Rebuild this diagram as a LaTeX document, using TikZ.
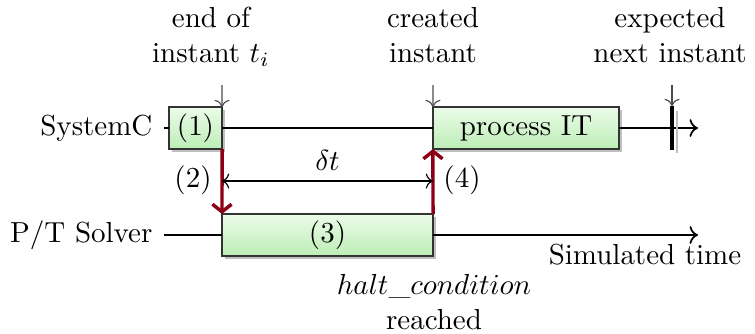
\documentclass[tikz,border=0pt]{standalone}
\usetikzlibrary{shadows,arrows.meta}
\definecolor{boxtop}{RGB}{236,252,233}
\definecolor{boxbot}{RGB}{188,237,182}
\definecolor{syncred}{RGB}{140,0,22}
\begin{document}
\begin{tikzpicture}[x=0.345pt,y=-0.345pt,
  phase/.style={draw=black!80, thin, top color=boxtop, bottom color=boxbot,
    minimum height=14.5pt, inner sep=0pt, outer sep=0pt,
    drop shadow={shadow xshift=1.1pt, shadow yshift=-1.1pt, opacity=1, fill=black!25}},
  timeline/.style={semithick},
  marker/.style={thin, black!70, ->},
  sync/.style={very thick, syncred, -{Straight Barb[length=2.6pt,width=6.6pt]}},
  span/.style={thin, <->},
  lbl/.style={align=center, inner sep=0pt, text depth=0pt},
  lane/.style={anchor=east, inner sep=0pt}]
\useasboundingbox (0,0) rectangle (755,333);

% lanes
\node[lane] (sc) at (153,128) {SystemC};
\node[lane] (pt) at (153,235) {P/T Solver};
\coordinate (scL) at (164,128);
\coordinate (scR) at (698,128);
\coordinate (ptL) at (164,235);
\coordinate (ptR) at (698,235);

% activity boxes
\node[phase, minimum width=18.3pt] (b1) at (195.5,128) {(1)};
\node[phase, minimum width=64.2pt] (bIT) at (526,128) {process IT};
\node[phase, minimum width=72.8pt] (b3) at (327.5,235) {(3)};

% time lines
\draw[timeline] (scL) -- (b1.west);
\draw[timeline] (b1.east) -- (bIT.west);
\draw[timeline,->] (bIT.east) -- (scR);
\draw[timeline] (ptL) -- (b3.west);
\draw[timeline,->] (b3.east) -- (ptR);

% expected next instant tick
\coordinate (tkT) at (672,106);
\coordinate (tkB) at (672,150);
\draw[black!25, thin] (677,111) -- (677,153);
\draw[line width=1.2pt] (tkT) -- (tkB);

% instant labels and markers
\node[lbl, anchor=south] (l1) at (211,63) {end of\\instant $t_i$};
\node[lbl, anchor=south] (l2) at (433,63) {created\\instant};
\node[lbl, anchor=south] (l3) at (670,63) {expected\\next instant};
\coordinate (m1) at (222,85);
\coordinate (m2) at (433,85);
\coordinate (m3) at (672,85);
\draw[marker] (m1) -- (b1.north east);
\draw[marker] (m2) -- (bIT.north west);
\draw[marker] (m3) -- (tkT);

% synchronisation between the two lanes
\draw[sync] (b1.south east) -- (b3.north west);
\draw[sync] (b3.north east) -- (bIT.south west);
\node (n2) at (193,180) {(2)};
\node (n4) at (462,180) {(4)};

% elapsed time
\coordinate (dtL) at (222,181);
\coordinate (dtR) at (433,181);
\draw[span] (dtL) -- node[above] (dt) {$\delta t$} (dtR);

% captions
\node[anchor=north, inner sep=0pt] (simt) at (645,243) {Simulated time};
\node[lbl, anchor=north] (halt) at (434,274) {$halt\_condition$\\reached};
\end{tikzpicture}
\end{document}
